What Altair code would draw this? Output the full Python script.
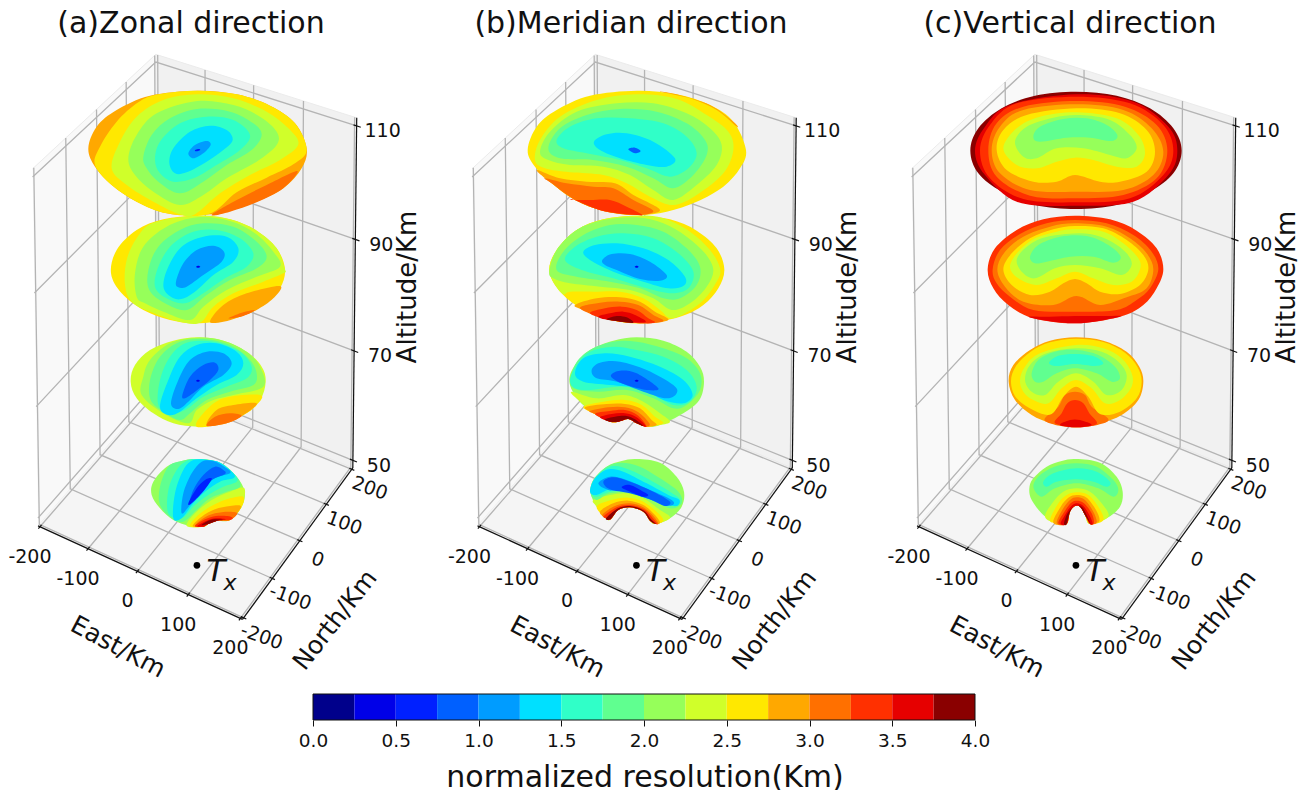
import altair as alt
import numpy as np
import pandas as pd

# ---------- colour levels (0.25 km per level) ----------
LEVELS = ["#00008b", "#0000e8", "#0020ff", "#0060ff", "#009cff", "#00e0ff", "#30ffc8", "#60ff90",
          "#96ff5a", "#d0ff2a", "#ffe800", "#ffa800", "#ff7000", "#ff3000", "#e60000", "#8a0000"]
BAR_EDGES = [i * 0.25 for i in range(17)]

# ---------- axes ----------
PANEL_TITLES = ["(a)Zonal direction", "(b)Meridian direction", "(c)Vertical direction"]
PANEL_TITLE_X = [191, 631, 1070]
PANEL_DX = [0, 439.5, 879]
EAST_TICKS = [-200, -100, 0, 100, 200]
NORTH_TICKS = [-200, -100, 0, 100, 200]
ALT_TICKS = [50, 70, 90, 110]
LIM = 204
ZB, ZT = 48.6, 111.4
TX_EAST, TX_NORTH = 80, -140

# picture position of the eight-minus-one visible box corners, used to fit the camera
CORNERS_WORLD = [(-LIM, LIM, ZT), (LIM, LIM, ZT), (-LIM, -LIM, ZT), (-LIM, -LIM, ZB),
                 (LIM, LIM, ZB), (LIM, -LIM, ZB), (-LIM, LIM, ZB)]
CORNERS_PX = [(156, 56), (357, 117), (32, 168), (39, 529), (353, 471), (242, 617), (157, 385)]

# ---------- contour regions, painted in list order ----------
# (level, outline) pairs per disc, each with the crop origin its outline was read in (3x px)
A4 = (140, 450, [
    (8, [(172,27),(240,38),(290,80),(314,125),(305,170),(270,210),(232,212),(215,212),(205,222),(190,230),(150,228),(100,210),(60,175),(35,135),(40,95),(80,50),(125,33)]),
    (9, [(140,228),(165,190),(215,150),(270,125),(313,115),(305,170),(270,210),(232,212),(205,222),(190,230)]),
    (10, [(150,228),(175,195),(220,165),(270,145),(310,140),(305,170),(270,210),(232,212),(205,222),(190,230)]),
    (11, [(158,228),(185,200),(225,178),(270,168),(303,170),(270,210),(232,212),(205,222),(190,230)]),
    (12, [(165,228),(190,205),(225,190),(265,185),(292,190),(270,210),(232,212),(205,222),(190,230)]),
    (13, [(165,228),(195,208),(228,198),(262,198),(278,203),(270,210),(232,212),(205,222),(190,230)]),
    (14, [(172,228),(200,212),(228,205),(258,208),(232,212),(205,222),(190,230)]),
    (15, [(185,225),(205,212),(230,208),(250,210),(232,212),(205,222)]),
    (7, [(60,165),(60,110),(85,50),(125,33),(172,27),(240,38),(290,80),(300,110),(260,125),(210,145),(170,180),(130,215),(95,205)]),
    (6, [(85,190),(85,120),(110,60),(140,33),(172,27),(240,38),(285,75),(290,95),(250,110),(205,135),(165,165),(125,205)]),
    (5, [(100,205),(105,130),(130,60),(160,30),(205,30),(240,38),(280,70),(280,85),(240,95),(195,125),(160,160),(125,205)]),
    (4, [(125,190),(130,130),(155,70),(185,35),(220,33),(260,55),(270,70),(225,85),(185,120),(150,165)]),
    (3, [(148,165),(160,120),(190,75),(225,50),(250,60),(255,72),(215,90),(180,125)]),
    (2, [(145,160),(170,115),(195,90),(215,85),(208,100),(185,130),(155,160)]),
])
A23 = (100, 210, [
    # 70 km
    (9, [(293,382),(370,392),(440,425),(485,470),(497,515),(480,570),(430,615),(360,642),(293,650),(220,640),(160,610),(110,565),(92,515),(105,465),(150,420),(220,392)]),
    (10, [(290,650),(310,610),(370,565),(480,555),(470,585),(430,615),(360,642)]),
    (11, [(320,645),(350,600),(400,585),(470,580),(430,615),(380,640)]),
    (12, [(320,648),(345,620),(390,610),(425,618),(380,640)]),
    (8, [(125,555),(130,500),(150,450),(210,400),(293,383),(370,392),(440,425),(480,470),(490,530),(400,555),(340,570),(290,600),(265,640),(190,610)]),
    (7, [(152,570),(150,510),(180,440),(240,395),(320,388),(400,410),(450,450),(470,490),(460,525),(390,545),(320,570),(270,610),(240,630),(190,605)]),
    (6, [(175,585),(180,510),(210,440),(260,398),(340,395),(420,425),(455,470),(440,505),(380,530),(310,560),(255,600),(210,610)]),
    (5, [(180,590),(205,510),(240,440),(290,405),(350,400),(410,425),(430,460),(410,495),(350,525),(290,565),(240,605),(205,615)]),
    (4, [(213,580),(235,510),(270,450),(320,425),(370,430),(395,460),(370,495),(310,530),(265,575),(235,597)]),
    (3, [(247,555),(270,500),(310,465),(345,458),(355,480),(330,510),(285,545),(255,565)]),
    (1, [(288,512),(294,509),(300,512),(294,515)]),
    # 90 km
    (10, [(293,17),(390,28),(470,62),(530,115),(555,178),(540,235),(490,285),(420,320),(300,340),(210,330),(130,300),(65,250),(33,190),(50,120),(110,60),(190,28)]),
    (11, [(330,335),(370,285),(440,250),(540,228),(520,265),(470,300),(420,320),(370,335)]),
    (12, [(385,325),(425,308),(465,300),(430,318)]),
    (9, [(160,38),(293,17),(390,28),(470,62),(530,115),(555,178),(550,190),(490,215),(400,250),(340,290),(300,338),(240,335),(150,305),(95,275),(75,225),(80,150),(110,85)]),
    (8, [(110,260),(105,190),(130,110),(200,50),(293,22),(390,33),(465,70),(520,125),(540,170),(470,200),(380,240),(310,290),(270,330),(190,305),(135,280)]),
    (7, [(148,240),(145,180),(175,110),(240,60),(310,40),(400,50),(470,95),(500,140),(470,175),(390,210),(320,255),(260,300),(195,280)]),
    (6, [(165,230),(175,170),(215,105),(280,65),(350,60),(420,85),(460,130),(440,170),(375,205),(310,250),(255,280),(200,265)]),
    (5, [(190,225),(205,170),(245,110),(310,80),(380,80),(415,115),(400,155),(340,195),(285,245),(240,268),(205,255)]),
    (4, [(228,215),(250,160),(290,120),(340,107),(372,125),(365,155),(310,195),(260,230),(235,232)]),
    (1, [(288,170),(295,167),(301,170),(294,173)]),
])
A1 = (80, 85, [
    (11, [(352,17),(470,28),(570,62),(645,115),(680,190),(665,250),(610,310),(530,350),(440,380),(352,390),(260,385),(170,350),(95,300),(45,245),(25,190),(50,125),(110,75),(210,32)]),
    (12, [(395,390),(470,345),(560,300),(652,258),(610,310),(530,352),(450,380)]),
    (10, [(235,28),(352,17),(470,28),(570,62),(645,115),(680,195),(640,238),(560,278),(470,322),(385,388),(260,385),(170,350),(95,300),(45,240),(60,185),(110,110),(175,52)]),
    (9, [(95,250),(120,170),(170,95),(250,45),(352,28),(460,40),(560,80),(625,130),(655,178),(600,225),(510,270),(420,325),(345,388),(300,388),(220,350),(140,300)]),
    (8, [(145,220),(170,150),(230,85),(352,48),(460,60),(540,95),(590,140),(590,180),(530,230),(440,280),(370,330),(300,360),(220,320),(165,270)]),
    (7, [(190,215),(215,150),(270,100),(352,72),(450,80),(520,115),(545,150),(515,195),(440,240),(370,290),(300,325),(235,290),(200,250)]),
    (6, [(225,225),(240,170),(300,115),(380,95),(460,105),(510,150),(480,195),(410,240),(340,280),(280,290),(240,265)]),
    (5, [(268,235),(280,190),(330,140),(390,122),(440,135),(458,165),(430,195),(380,230),(320,262),(285,265)]),
    (4, [(325,205),(345,180),(380,168),(392,180),(370,205),(340,220)]),
    (2, [(345,195),(358,192),(360,196),(348,199)]),
])

NB4 = [(228,222),(210,212),(190,185),(150,172),(115,180),(92,208),(78,205)]
B4 = (580, 450, [
    (8, [(170,27),(240,38),(290,80),(312,125),(305,170),(270,205)] + NB4 + [(50,170),(32,130),(40,90),(80,50),(125,33)]),
    (9, [(40,150),(90,135),(140,130),(190,145),(240,180),(270,203)] + NB4 + [(50,170)]),
    (10, [(50,170),(95,150),(145,143),(190,155),(235,190),(250,212)] + NB4),
    (11, [(60,185),(100,160),(145,152),(190,165),(225,195),(240,217)] + NB4),
    (12, [(68,193),(105,168),(150,160),(190,172),(222,200),(235,220)] + NB4),
    (13, [(72,198),(110,172),(150,165),(192,178),(218,204),(232,221)] + NB4),
    (15, [(78,205),(112,176),(150,168),(192,182),(213,208),(228,222),(210,212),(190,185),(150,172),(115,180),(92,208)]),
    (7, [(32,130),(40,90),(80,50),(125,38),(180,50),(240,85),(295,125),(305,160),(270,175),(210,145),(160,125),(90,130),(50,150)]),
    (6, [(35,110),(60,70),(100,48),(150,60),(210,90),(270,125),(300,150),(270,165),(210,135),(155,118),(90,125),(45,140)]),
    (5, [(30,125),(45,85),(85,58),(130,65),(200,100),(265,135),(298,150),(290,168),(250,160),(205,130),(150,115),(90,118),(50,135)]),
    (4, [(55,100),(90,80),(140,90),(210,120),(275,150),(278,165),(250,165),(200,145),(140,125),(85,120)]),
    (3, [(70,95),(100,82),(150,95),(220,125),(270,155),(255,168),(215,150),(150,130),(90,118)]),
    (2, [(125,112),(150,105),(190,125),(205,135),(190,140),(150,125)]),
])
NB3 = [(320,650),(290,640),(265,627),(235,635),(210,635)]
B23 = (540, 210, [
    # 70 km
    (8, [(290,382),(370,392),(440,425),(480,470),(492,515),(478,570),(430,610),(360,645)] + NB3 + [(165,612),(115,570),(88,515),(105,465),(150,420),(220,392)]),
    (9, [(95,545),(170,565),(250,555),(310,575),(360,610),(390,635),(360,645)] + NB3 + [(165,612),(115,570)]),
    (10, [(130,590),(190,575),(255,570),(305,585),(345,620),(370,640)] + NB3 + [(165,612)]),
    (11, [(135,592),(200,582),(255,582),(300,595),(335,630),(350,645)] + NB3 + [(165,612)]),
    (12, [(150,603),(205,592),(255,592),(295,607),(328,640)] + NB3 + [(165,612)]),
    (13, [(165,612),(210,603),(255,600),(292,615)] + NB3),
    (14, [(180,622),(215,612),(255,610),(290,622),(318,650),(290,640),(265,627),(235,635),(210,635)]),
    (15, [(195,628),(225,620),(260,618),(285,628),(310,648),(290,640),(265,627),(235,635),(210,635)]),
    (7, [(95,530),(105,465),(150,420),(220,395),(290,395),(370,415),(440,445),(480,490),(480,540),(440,585),(400,595),(340,565),(260,540),(170,545)]),
    (6, [(90,510),(110,465),(150,425),(220,410),(290,420),(370,440),(440,480),(470,530),(450,575),(400,585),(330,550),(250,530),(150,540),(105,535)]),
    (5, [(105,490),(130,445),(195,430),(270,440),(360,470),(430,510),(458,555),(430,580),(370,570),(300,535),(210,525),(130,515)]),
    (4, [(155,480),(180,458),(240,455),(320,480),(400,525),(410,550),(380,565),(310,545),(230,515),(170,505)]),
    (3, [(213,495),(240,482),(290,490),(355,535),(320,540),(260,525),(225,510)]),
    (1, [(284,512),(290,509),(296,512),(290,515)]),
    # 90 km
    (10, [(290,17),(390,28),(470,62),(530,115),(553,178),(535,235),(490,285),(420,320),(310,340),(210,330),(130,300),(65,250),(28,185),(50,120),(110,60),(190,28)]),
    (11, [(105,285),(170,265),(240,262),(300,275),(345,305),(385,330),(310,340),(210,330),(130,300)]),
    (12, [(120,295),(180,278),(240,275),(295,285),(340,315),(370,333),(310,340),(210,330)]),
    (13, [(150,310),(195,295),(245,290),(290,300),(325,325),(345,337),(310,340),(210,330)]),
    (14, [(175,320),(210,310),(250,305),(285,315),(315,337),(210,330)]),
    (15, [(200,328),(230,318),(260,322),(280,338),(240,335)]),
    (9, [(65,250),(28,185),(50,120),(110,60),(190,28),(290,17),(370,25),(450,65),(510,120),(540,175),(530,215),(480,280),(400,325),(360,300),(310,265),(240,245),(160,245),(90,245)]),
    (8, [(28,185),(50,120),(110,60),(190,30),(290,22),(370,40),(440,80),(495,130),(520,180),(500,230),(450,280),(395,300),(340,265),(270,240),(180,230),(90,220),(40,205)]),
    (7, [(50,180),(70,125),(130,75),(210,45),(290,45),(370,65),(440,115),(480,170),(470,225),(420,265),(370,265),(300,235),(210,215),(110,200)]),
    (6, [(75,150),(105,110),(170,80),(250,70),(340,85),(415,130),(460,185),(445,235),(395,250),(320,235),(220,205),(125,180)]),
    (5, [(130,125),(165,105),(230,100),(310,115),(385,150),(435,200),(430,228),(385,235),(310,215),(220,185),(150,150)]),
    (4, [(187,150),(215,132),(270,132),(330,155),(380,195),(360,212),(300,207),(230,180),(195,165)]),
    (1, [(284,170),(290,167),(296,170),(290,173)]),
])
B1 = (520, 85, [
    (10, [(350,17),(470,28),(570,60),(640,110),(678,195),(660,250),(610,305),(530,350),(440,380),(350,390),(250,378),(165,345),(95,295),(45,245),(23,195),(50,125),(110,75),(210,32)]),
    (11, [(420,20),(470,28),(570,60),(640,110),(650,125),(590,75),(510,40)]),
    (11, [(50,255),(120,280),(200,290),(285,295),(340,330),(420,375),(350,390),(250,378),(165,345),(95,295)]),
    (12, [(75,280),(140,295),(220,305),(280,310),(340,345),(400,378),(350,390),(250,378),(165,345),(95,295)]),
    (13, [(155,345),(210,345),(270,345),(320,365),(365,388),(350,390),(250,378),(165,345)]),
    (9, [(45,225),(60,165),(120,95),(230,45),(350,28),(470,42),(560,90),(625,140),(640,195),(610,265),(530,330),(460,360),(390,335),(320,295),(250,270),(150,262),(75,250)]),
    (8, [(60,200),(90,140),(170,80),(290,55),(400,55),(500,85),(570,130),(605,180),(590,240),(530,300),(460,345),(400,315),(330,270),(250,245),(150,240),(85,225)]),
    (7, [(85,190),(120,130),(200,90),(300,72),(410,80),(500,115),(555,165),(560,210),(520,270),(460,310),(400,280),(320,245),(220,225),(120,220)]),
    (6, [(110,165),(150,125),(230,100),(330,100),(430,115),(500,155),(530,205),(505,250),(450,275),(380,250),(300,225),(200,205),(130,190)]),
    (5, [(222,170),(260,148),(320,145),(400,170),(465,220),(440,245),(380,240),(300,220),(240,195)]),
    (3, [(325,193),(345,188),(362,198),(345,205)]),
])

C4 = (1020, 450, [
    (8, [(168,27),(240,38),(290,80),(308,125),(300,170),(260,205),(210,222),(195,195),(180,170),(165,168),(150,185),(140,222),(110,220),(70,195),(35,150),(28,115),(40,85),(80,50),(125,33)]),
    (9, [(75,200),(100,155),(130,125),(170,115),(210,125),(245,160),(265,200),(210,222),(195,195),(180,170),(165,168),(150,185),(140,222),(110,220)]),
    (10, [(90,210),(115,160),(140,135),(170,127),(205,135),(235,170),(250,210),(210,222),(195,195),(180,170),(165,168),(150,185),(140,222),(110,220)]),
    (11, [(100,218),(122,170),(145,143),(170,135),(200,143),(228,180),(238,213),(210,222),(195,195),(180,170),(165,168),(150,185),(140,222)]),
    (12, [(110,220),(128,178),(150,150),(170,142),(195,150),(220,185),(230,217),(210,222),(195,195),(180,170),(165,168),(150,185),(140,222)]),
    (13, [(115,220),(130,190),(152,160),(170,152),(192,160),(215,190),(222,219),(210,222),(195,195),(180,170),(165,168),(150,185),(140,222)]),
    (14, [(122,221),(135,195),(152,170),(170,160),(190,168),(208,195),(218,220),(210,222),(195,195),(180,170),(165,168),(150,185),(140,222)]),
    (15, [(132,221),(140,195),(155,175),(170,167),(187,172),(200,195),(212,222),(195,195),(180,170),(165,168),(150,185),(140,222)]),
    (7, [(40,110),(60,75),(110,48),(170,40),(230,50),(280,90),(295,120),(280,140),(235,115),(170,100),(105,115),(65,140)]),
    (6, [(70,95),(100,70),(170,55),(230,65),(270,95),(260,110),(220,95),(170,88),(110,95),(80,110)]),
])
C23 = (980, 210, [
    # 70 km
    (11, [(288,382),(370,392),(440,425),(478,470),(490,515),(475,570),(425,615),(360,640),(288,652),(215,640),(155,615),(105,570),(86,515),(100,465),(150,420),(210,392)]),
    (12, [(195,632),(235,590),(255,555),(285,545),(315,555),(335,590),(385,632),(288,652)]),
    (13, [(225,640),(245,610),(262,580),(285,570),(310,580),(328,610),(350,642),(288,652)]),
    (14, [(240,645),(270,630),(300,630),(335,645),(288,652)]),
    (10, [(93,515),(108,468),(152,425),(210,397),(288,386),(370,396),(435,428),(472,470),(485,515),(470,565),(420,605),(360,612),(325,560),(288,530),(250,560),(215,612),(165,603),(110,565)]),
    (9, [(120,510),(135,470),(180,430),(288,405),(370,415),(425,445),(455,490),(455,530),(420,570),(375,580),(335,535),(288,510),(245,535),(205,580),(160,570),(130,545)]),
    (8, [(135,510),(150,465),(200,430),(288,415),(365,425),(415,455),(440,495),(425,540),(380,555),(340,515),(288,490),(235,515),(195,555),(155,545)]),
    (7, [(155,490),(175,450),(225,425),(290,420),(355,435),(405,470),(420,505),(395,515),(350,490),(285,475),(230,490),(190,515),(165,515)]),
    (6, [(207,458),(235,437),(290,432),(345,440),(370,460),(345,468),(285,462),(230,468)]),
    # 90 km
    (13, [(285,17),(390,28),(470,62),(530,115),(550,178),(530,235),(490,285),(420,320),(285,340),(160,325),(85,285),(40,235),(23,178),(45,115),(110,60),(190,28)]),
    (14, [(145,320),(210,320),(285,318),(370,318),(425,318),(360,332),(285,340),(200,332)]),
    (12, [(38,178),(60,120),(120,72),(200,40),(285,30),(380,40),(460,75),(515,125),(535,178),(510,235),(470,270),(410,300),(285,305),(160,300),(90,260),(50,220)]),
    (11, [(52,178),(75,125),(130,80),(210,50),(285,40),(380,50),(450,85),(500,130),(520,178),(500,235),(440,262),(360,285),(290,258),(220,285),(130,275),(75,230)]),
    (10, [(70,178),(95,130),(150,85),(220,58),(285,48),(370,55),(440,90),(490,135),(505,178),(480,225),(420,252),(360,245),(320,220),(285,207),(250,220),(210,245),(150,255),(95,225)]),
    (9, [(90,170),(115,125),(165,85),(230,65),(285,58),(370,65),(430,100),(475,145),(480,178),(455,215),(400,225),(340,205),(285,185),(230,205),(170,225),(115,205)]),
    (8, [(110,150),(135,115),(185,85),(260,72),(330,72),(395,95),(440,130),(455,165),(425,195),(360,175),(285,165),(225,175),(165,205),(125,185)]),
    (7, [(150,140),(175,105),(240,80),(320,78),(385,105),(422,140),(400,158),(340,140),(270,140),(200,155),(165,160)]),
])
C1 = (960, 85, [
    (15, [(348,20),(470,32),(570,70),(640,130),(665,197),(640,265),(570,320),(470,360),(348,372),(225,360),(125,320),(55,265),(31,197),(55,130),(125,70),(225,32)]),
    (14, [(45,197),(75,125),(150,60),(348,28),(520,50),(625,125),(652,197),(625,270),(520,350),(348,362),(175,352),(75,270)]),
    (13, [(60,197),(90,120),(170,55),(350,35),(510,55),(610,120),(640,197),(610,270),(510,340),(350,352),(190,342),(90,280)]),
    (12, [(85,195),(110,115),(190,65),(350,48),(495,65),(590,120),(622,197),(590,280),(490,330),(350,340),(210,332),(110,275)]),
    (11, [(95,195),(120,125),(190,75),(350,58),(490,75),(575,130),(610,200),(580,270),(490,315),(350,320),(210,315),(120,265)]),
    (10, [(110,195),(130,135),(200,90),(350,70),(480,85),(560,135),(585,200),(560,260),(480,290),(420,290),(345,270),(290,290),(220,290),(140,255)]),
    (9, [(130,190),(170,130),(240,95),(350,82),(470,100),(535,150),(555,205),(530,245),(470,245),(400,225),(345,218),(290,230),(230,250),(170,240)]),
    (8, [(165,170),(200,125),(280,98),(360,90),(450,105),(510,150),(530,190),(500,220),(450,210),(370,190),(290,190),(230,220),(190,215)]),
    (7, [(220,155),(240,125),(310,102),(380,100),(440,120),(472,150),(455,168),(390,158),(320,158),(240,170)]),
])
DISC_GROUPS = [A4, A23, A1, B4, B23, B1, C4, C23, C1]

# ---------- camera fitted from the box corners ----------
A, b = [], []
for (X, Y, Z), (u, v) in zip(CORNERS_WORLD, CORNERS_PX):
    A.append([X, Y, Z, 1, 0, 0, 0, 0, -u * X, -u * Y, -u * Z]); b.append(u)
    A.append([0, 0, 0, 0, X, Y, Z, 1, -v * X, -v * Y, -v * Z]); b.append(v)
P = np.append(np.linalg.lstsq(np.array(A, float), np.array(b, float), rcond=None)[0], 1).reshape(3, 4)


def proj(X, Y, Z, dx=0):
    p = P @ np.array([X, Y, Z, 1.0])
    return p[0] / p[2] + dx, p[1] / p[2]


# ---------- tables ----------
panes, grid, axes, texts, dots, heads = [], [], [], [], [], []
pid = 0


def add(rows, pts, dx, **extra):
    global pid
    pid += 1
    for k, (X, Y, Z) in enumerate(pts):
        x, y = proj(X, Y, Z, dx)
        rows.append(dict(x=x, y=y, id=pid, k=k, **extra))


def label(x, y, text, size, angle=0):
    texts.append(dict(x=x, y=y, text=text, size=size, angle=angle))


for title, tx, dx in zip(PANEL_TITLES, PANEL_TITLE_X, PANEL_DX):
    L = LIM
    add(panes, [(-L, -L, ZB), (-L, L, ZB), (-L, L, ZT), (-L, -L, ZT)], dx, c="#f9f9f9")
    add(panes, [(-L, L, ZB), (L, L, ZB), (L, L, ZT), (-L, L, ZT)], dx, c="#f1f1f1")
    add(panes, [(-L, -L, ZB), (L, -L, ZB), (L, L, ZB), (-L, L, ZB)], dx, c="#f5f5f5")
    for t in EAST_TICKS:
        add(grid, [(t, -L, ZB), (t, L, ZB), (t, L, ZT)], dx)
        add(axes, [(t, -L - 5, ZB), (t, -L + 5, ZB)], dx)
        x, y = proj(t, -L, ZB, dx)
        label(x - 10, y + 30, str(t), 19)
    for t in NORTH_TICKS:
        add(grid, [(L, t, ZB), (-L, t, ZB), (-L, t, ZT)], dx)
        add(axes, [(L + 5, t, ZB), (L - 5, t, ZB)], dx)
        x, y = proj(L, t, ZB, dx)
        label(x + 18, y + 19, str(t), 19, 20)
    for t in ALT_TICKS:
        add(grid, [(-L, -L, t), (-L, L, t), (L, L, t)], dx)
        add(axes, [(L - 6, L, t), (L + 8, L, t)], dx)
        x, y = proj(L, L, t, dx)
        label(x + 26, y + 5.5, str(t), 19)
    add(axes, [(-L, -L, ZB), (L, -L, ZB)], dx)
    add(axes, [(L, -L, ZB), (L, L, ZB)], dx)
    add(axes, [(L, L, ZB), (L, L, ZT)], dx)
    heads.append(dict(x=tx, y=33, text=title))
    label(118 + dx, 647, "East/Km", 25, 28)
    label(335 + dx, 620, "North/Km", 25, 308)
    label(408 + dx, 287, "Altitude/Km", 26, 270)
    x, y = proj(TX_EAST, TX_NORTH, ZB, dx)
    dots.append(dict(x=x, y=y, tx=x + 19, ty=y + 7, sx=x + 33, sy=y + 18))

regions = []
rid = 0
for ox, oy, polys in DISC_GROUPS:
    for level, pts in polys:
        rid += 1
        for k, (px, py) in enumerate(pts):
            regions.append(dict(x=ox + px / 3, y=oy + py / 3, id=rid, k=k, c=LEVELS[level]))

xs = alt.Scale(domain=[8, 1301], nice=False, zero=False)
ys = alt.Scale(domain=[688, 8], nice=False, zero=False)
X = alt.X("x:Q", axis=None, scale=xs)
Y = alt.Y("y:Q", axis=None, scale=ys)
colour = alt.Color("c:N", scale=None, legend=None)

pane_layer = alt.Chart(pd.DataFrame(panes)).mark_line(filled=True, stroke="#ebebeb", strokeWidth=1).encode(
    X, Y, colour, detail="id:N", order="k:Q")
grid_layer = alt.Chart(pd.DataFrame(grid)).mark_line(color="#b4b4b4", strokeWidth=1.3).encode(
    X, Y, detail="id:N", order="k:Q")
disc_layer = alt.Chart(pd.DataFrame(regions)).mark_line(
    filled=True, interpolate="cardinal-closed", tension=0, strokeWidth=0).encode(
    X, Y, colour, detail="id:N", order="k:Q")
axis_layer = alt.Chart(pd.DataFrame(axes)).mark_line(color="#111111", strokeWidth=1.2).encode(
    X, Y, detail="id:N", order="k:Q")
text_layer = alt.Chart(pd.DataFrame(texts)).mark_text(color="#111111", baseline="middle", align="center").encode(
    X, Y, text="text:N", size=alt.Size("size:Q", scale=None, legend=None),
    angle=alt.Angle("angle:Q", scale=None))
head_layer = alt.Chart(pd.DataFrame(heads)).mark_text(color="#111111", baseline="alphabetic", align="center",
                                                      fontSize=30).encode(X, Y, text="text:N")
dots_df = pd.DataFrame(dots)
dot_layer = alt.Chart(dots_df).mark_circle(color="black", size=45, opacity=1).encode(X, Y)
t_layer = alt.Chart(dots_df).mark_text(text="T", fontSize=31, fontStyle="italic", color="#111111", baseline="middle").encode(
    alt.X("tx:Q", axis=None, scale=xs), alt.Y("ty:Q", axis=None, scale=ys))
s_layer = alt.Chart(dots_df).mark_text(text="x", fontSize=22, fontStyle="italic", color="#111111", baseline="middle").encode(
    alt.X("sx:Q", axis=None, scale=xs), alt.Y("sy:Q", axis=None, scale=ys))

main = alt.layer(pane_layer, grid_layer, disc_layer, axis_layer, text_layer, head_layer, dot_layer, t_layer, s_layer).properties(
    width=1293, height=680)

# ---------- colour bar with a real axis ----------
px_per_unit = (975 - 313) / 4
dom = [-(313 - 8) / px_per_unit, 4 + (1301 - 975) / px_per_unit]
bar_df = pd.DataFrame({"a": BAR_EDGES[:-1], "b": BAR_EDGES[1:], "c": LEVELS})
barX = alt.X("a:Q", scale=alt.Scale(domain=dom, nice=False, zero=False),
             axis=alt.Axis(values=[0, 0.5, 1, 1.5, 2, 2.5, 3, 3.5, 4], format=".1f", domain=False, grid=False,
                           tickColor="#111111", tickSize=6, labelFontSize=18.5, labelColor="#111111", labelPadding=5,
                           title="normalized resolution(Km)", titleFontSize=30, titleFontWeight="normal",
                           titleColor="#111111", titleX=636.5, titleY=66, titleBaseline="alphabetic"))
bar = alt.Chart(bar_df).mark_rect().encode(barX, x2="b:Q", color=colour)
frame = alt.Chart(pd.DataFrame({"a": [0], "b": [4]})).mark_rect(fill=None, stroke="#111111", strokeWidth=1).encode(
    barX, x2="b:Q")
colorbar = alt.layer(bar, frame).properties(width=1293, height=26)

chart = alt.vconcat(main, colorbar, spacing=5).properties(padding=0).configure(
    font="DejaVu Sans").configure_view(stroke="transparent", strokeWidth=0)
chart.save("out.html", embed_options={"renderer": "svg", "actions": False})
